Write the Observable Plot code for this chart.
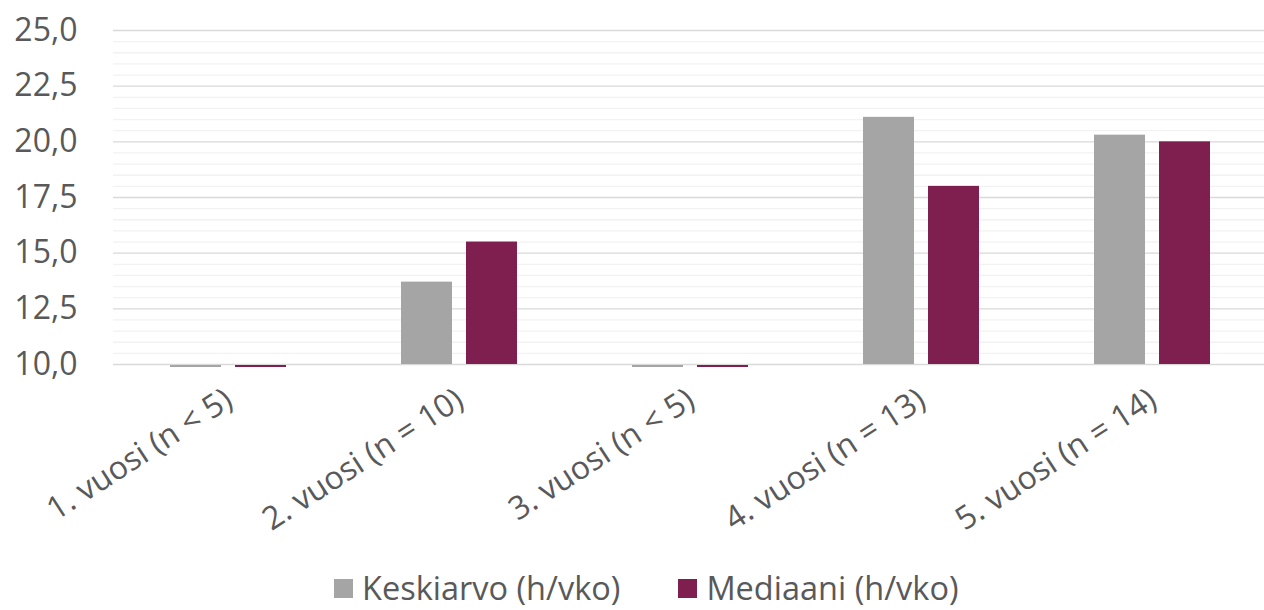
<!DOCTYPE html>
<html><head><meta charset="utf-8">
<script src="https://cdn.jsdelivr.net/npm/d3@7"></script>
<script src="https://cdn.jsdelivr.net/npm/@observablehq/plot@0.6"></script>
<style>
html,body{margin:0;background:#fff;font-family:"Open Sans",sans-serif;}
body{width:1264px;height:610px;overflow:hidden;}
#chart svg{display:block;}
#legend{display:flex;align-items:center;height:28px;padding-left:334px;font-size:32.5px;line-height:1;color:#595959;font-family:"Open Sans",sans-serif;}
.item{display:flex;align-items:center;margin-right:58px;}
.item span.t{display:inline-block;line-height:1;}
.sw{width:19px;height:19px;margin-right:9px;}
</style></head><body>
<div id="chart"></div><div id="legend"></div>
<script>
const categories = ["1. vuosi (n < 5)", "2. vuosi (n = 10)", "3. vuosi (n < 5)", "4. vuosi (n = 13)", "5. vuosi (n = 14)"];
const series = ["Keskiarvo (h/vko)", "Mediaani (h/vko)"];
const keskiarvo = [10.0, 13.7, 10.0, 21.1, 20.3];
const mediaani = [10.0, 15.5, 10.0, 18.0, 20.0];
const colors = ["#a5a5a5", "#7f1f4f"];
const yDomain = [10, 25];
const yTicks = [10, 12.5, 15, 17.5, 20, 22.5, 25];

const data = [];
categories.forEach((c, i) => {
  data.push({category: c, series: series[0], value: keskiarvo[i]});
  data.push({category: c, series: series[1], value: mediaani[i]});
});
const minorTicks = d3.range(yDomain[0] + 0.5, yDomain[1] + 0.001, 0.5).filter(v => Math.abs(v / 2.5 - Math.round(v / 2.5)) > 1e-6);

const chart = Plot.plot({
  width: 1264,
  height: 574,
  marginLeft: 112,
  marginRight: -4,
  marginTop: 30,
  marginBottom: 210,
  style: {fontFamily: "'Open Sans', sans-serif", color: "#595959", background: "#fff"},
  fx: {domain: categories, padding: 0, label: null},
  x: {domain: series, paddingInner: 0.212, paddingOuter: 0.858, axis: null},
  y: {domain: yDomain, label: null, axis: null},
  color: {domain: series, range: colors},
  marks: [
    Plot.ruleY(minorTicks, {stroke: "#f2f2f2", strokeWidth: 1.3}),
    Plot.ruleY(yTicks, {stroke: "#d9d9d9", strokeWidth: 1.3}),
    Plot.barY(data, {fx: "category", x: "series", y1: () => yDomain[0], y2: "value", fill: "series"}),
    Plot.tickY(data.filter(d => d.value <= yDomain[0]), {fx: "category", x: "series", y: "value", stroke: "series", strokeWidth: 2, dy: 1.5}),
    Plot.axisY({ticks: yTicks, tickSize: 0, tickPadding: 36, fontSize: 32, label: null, tickFormat: d => d.toFixed(1).replace(".", ","), fill: "#595959"}),
    Plot.axisFx({anchor: "bottom", tickSize: 0, tickPadding: 32, tickRotate: -33, fontSize: 32, label: null, fill: "#595959"})
  ]
});
document.getElementById("chart").appendChild(chart);

const legend = document.getElementById("legend");
series.forEach((s, i) => {
  const item = document.createElement("div");
  item.className = "item";
  const sw = document.createElement("span");
  sw.className = "sw";
  sw.style.background = colors[i];
  const t = document.createElement("span");
  t.className = "t";
  t.textContent = s;
  item.appendChild(sw);
  item.appendChild(t);
  legend.appendChild(item);
});
</script></body></html>
